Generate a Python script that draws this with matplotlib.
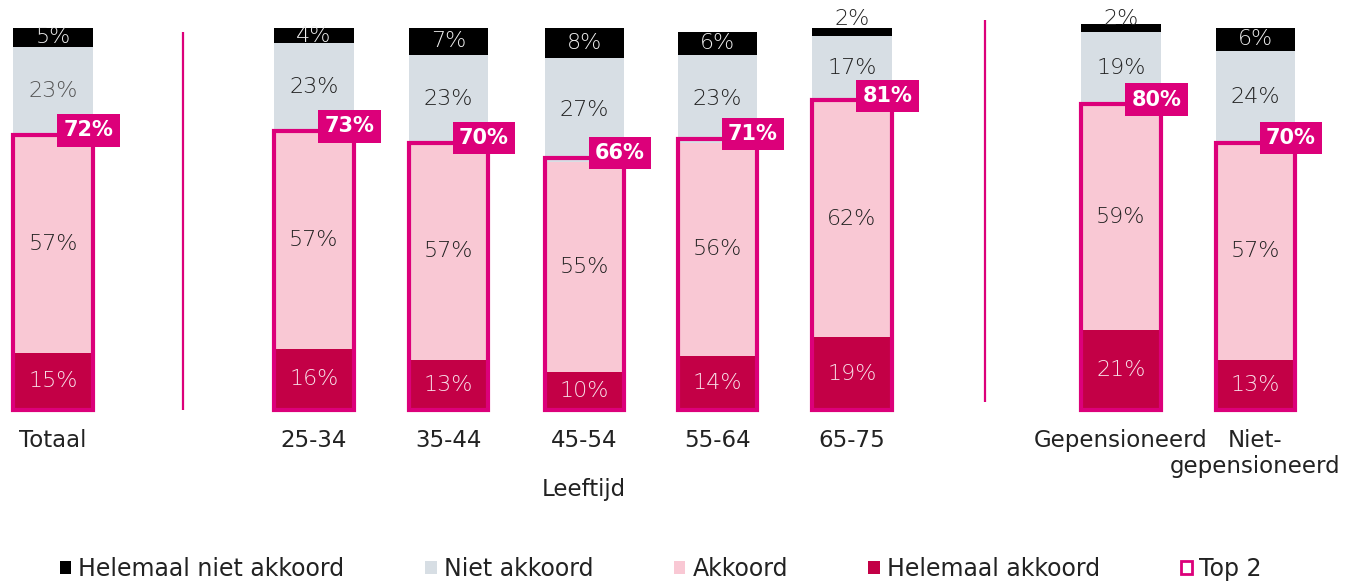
import numpy as np
import matplotlib.pyplot as plt

categories = ["Totaal", "25-34", "35-44", "45-54", "55-64", "65-75",
              "Gepensioneerd", "Niet-\ngepensioneerd"]
helemaal_akkoord = [15, 16, 13, 10, 14, 19, 21, 13]
akkoord = [57, 57, 57, 55, 56, 62, 59, 57]
niet_akkoord = [23, 23, 23, 27, 23, 17, 19, 24]
helemaal_niet = [5, 4, 7, 8, 6, 2, 2, 6]
top2 = [72, 73, 70, 66, 71, 81, 80, 70]

# slot positions (gaps between groups)
pos = np.array([0, 1.94, 2.94, 3.95, 4.94, 5.94, 7.94, 8.94])
sep_x = [0.97, 6.93]

C_BLACK = "#000000"
C_GRAY = "#d7dee4"
C_PINK = "#f9c8d4"
C_CRIMSON = "#c30046"
C_MAGENTA = "#dc007a"
TXT = "#222222"

plt.rcParams['font.family'] = ['DejaVu Sans']

fig = plt.figure(figsize=(13.54, 5.83), dpi=100)
ax = fig.add_axes([0, 0, 1, 1])
ax.set_xlim(-0.394, 9.673)
ax.set_ylim(-45.3, 107.3)
ax.axis("off")

w = 0.59
ha = np.array(helemaal_akkoord)
ak = np.array(akkoord)
na = np.array(niet_akkoord)
hn = np.array(helemaal_niet)

b1 = ax.bar(pos, ha, w, color=C_CRIMSON, label="Helemaal akkoord")
b2 = ax.bar(pos, ak, w, bottom=ha, color=C_PINK, label="Akkoord")
b3 = ax.bar(pos, na, w, bottom=ha + ak, color=C_GRAY, label="Niet akkoord")
b4 = ax.bar(pos, hn, w, bottom=ha + ak + na, color=C_BLACK,
            label="Helemaal niet akkoord")
bt = ax.bar(pos, top2, w, fill=False, edgecolor=C_MAGENTA, linewidth=3,
            label="Top 2")

fs = 16
for i, x in enumerate(pos):
    ax.text(x, ha[i] / 2, f"{ha[i]}%", ha="center", va="center",
            fontsize=fs, color="#f8e0e8", fontweight="light")
    ax.text(x, ha[i] + ak[i] / 2, f"{ak[i]}%", ha="center", va="center",
            fontsize=fs, color=TXT, fontweight="light")
    ax.text(x, ha[i] + ak[i] + na[i] / 2, f"{na[i]}%", ha="center",
            va="center", fontsize=fs, color=TXT if i else "#555555",
            fontweight="light")
    if hn[i] >= 4:
        ax.text(x, ha[i] + ak[i] + na[i] + hn[i] / 2, f"{hn[i]}%",
                ha="center", va="center", fontsize=fs, color="#eeeeee",
                fontweight="light")
    else:
        ax.text(x, 100 + 2.4, f"{hn[i]}%", ha="center", va="center",
                fontsize=fs, color=TXT, fontweight="light")
    ax.text(x + w / 2 - 0.03, top2[i] + 1.2, f"{top2[i]}%", ha="center",
            va="center", fontsize=15, color="white", fontweight="bold",
            bbox=dict(boxstyle="square,pad=0.3", fc=C_MAGENTA, ec="none"))
    # category label, one text per line
    for k, line in enumerate(categories[i].split("\n")):
        ax.text(x, -5.0 - k * 6.8, line, ha="center", va="top",
                fontsize=16.5, color=TXT)

ax.text(pos[3], -20.9, "Leeftijd", ha="center", va="center", fontsize=16.5,
        color=TXT)

ax.vlines(sep_x[0], 0, 99, color=C_MAGENTA, lw=1.6)
ax.vlines(sep_x[1], 2, 102, color=C_MAGENTA, lw=1.6)

leg = ax.legend(handles=[b4, b3, b2, b1, bt], loc="center",
                bbox_to_anchor=(0.488, 0.024), ncol=5, frameon=False,
                fontsize=17, handlelength=0.5, handleheight=0.5,
                handletextpad=0.3, columnspacing=3.4, labelcolor=TXT)
for h in leg.legend_handles:
    h.set_linewidth(2)

fig.savefig("out.png", dpi=100)
